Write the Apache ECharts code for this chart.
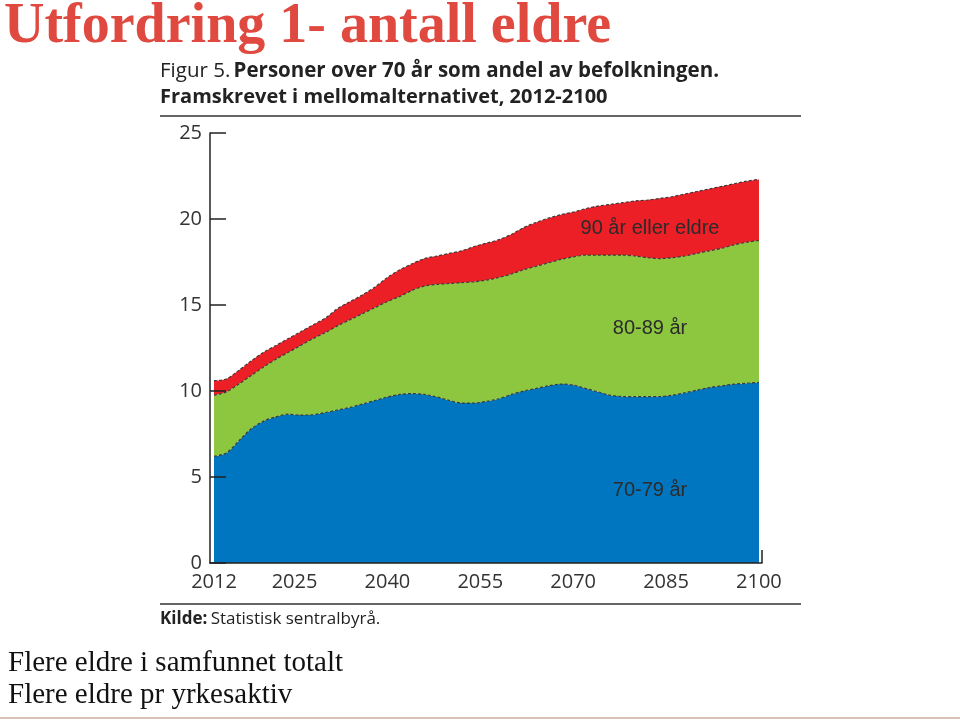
<!DOCTYPE html>
<html>
<head>
<meta charset="utf-8">
<script src="https://cdn.jsdelivr.net/npm/echarts@6/dist/echarts.min.js"></script>
<style>
html,body{margin:0;padding:0;background:#fff;}
#chart{width:960px;height:723px;}
</style>
</head>
<body>
<div id="chart"></div>
<script>
const years = [2012,2014,2016,2018,2020,2022,2024,2026,2028,2030,2032,2034,2036,2038,2040,2042,2044,2046,2048,2050,2052,2054,2056,2058,2060,2062,2064,2066,2068,2070,2072,2074,2076,2078,2080,2082,2084,2086,2088,2090,2092,2094,2096,2098,2100];
const age70_79 = [6.2,6.4,7.1,7.8,8.25,8.5,8.65,8.6,8.62,8.75,8.9,9.05,9.25,9.45,9.65,9.8,9.85,9.8,9.65,9.45,9.3,9.3,9.4,9.55,9.8,10.0,10.15,10.3,10.4,10.35,10.15,9.95,9.75,9.68,9.67,9.67,9.68,9.75,9.9,10.05,10.2,10.3,10.4,10.45,10.5];
const age80_89 = [3.55,3.55,3.3,3.1,3.15,3.35,3.6,4.05,4.43,4.65,4.9,5.1,5.25,5.4,5.55,5.7,6.0,6.3,6.55,6.8,7.0,7.05,7.05,7.05,7.0,7.05,7.1,7.15,7.25,7.45,7.75,7.95,8.15,8.22,8.18,8.08,8.02,8.0,7.95,7.95,7.95,8.0,8.1,8.2,8.25];
const age90plus = [0.85,0.75,0.8,0.85,0.85,0.8,0.8,0.8,0.8,0.85,1.0,1.05,1.1,1.2,1.4,1.55,1.55,1.6,1.65,1.75,1.85,2.05,2.15,2.2,2.3,2.45,2.55,2.6,2.6,2.6,2.7,2.85,2.95,3.05,3.2,3.35,3.5,3.55,3.6,3.6,3.6,3.6,3.55,3.55,3.55];
const xTickLabels = [2012,2025,2040,2055,2070,2085,2100];
const yTicks = [0,5,10,15,20,25];
const seriesNames = ['70-79 år','80-89 år','90 år eller eldre'];

const chart = echarts.init(document.getElementById('chart'), null, {renderer:'canvas'});

const areaColors = ['#0076C0','#8DC63F','#ED1F26'];
const valueSets = [age70_79, age80_89, age90plus];

const series = valueSets.map((vals, i) => ({
  name: seriesNames[i],
  type: 'line',
  xAxisIndex: 0,
  yAxisIndex: 0,
  stack: 'total',
  data: vals,
  symbol: 'none',
  smooth: 0.3,
  lineStyle: {color:'#3a3a3a', width:1.2, type:[3,2]},
  areaStyle: {color: areaColors[i], opacity:1},
  itemStyle: {color: areaColors[i]},
  emphasis: {disabled:true}
}));

const sans = '"Open Sans", "Noto Sans", sans-serif';
const yMin = yTicks[0], yMax = yTicks[yTicks.length-1];

const option = {
  animation: false,
  backgroundColor: '#ffffff',
  grid: [
    {left: 214, right: 201, top: 133, bottom: 160, containLabel: false},
    {left: 210, right: 198, top: 133, bottom: 160, containLabel: false}
  ],
  xAxis: [
    {type:'category', gridIndex:0, data: years, boundaryGap:false, show:false},
    {
      type: 'value', gridIndex: 1, z: 5,
      min: 2011.35, max: 2100.5,
      axisLine: {show:true, lineStyle:{color:'#222', width:1.5}},
      axisTick: {show:true, customValues:[2100.5], inside:true, length:13, lineStyle:{color:'#222', width:1.5}},
      splitLine: {show:false},
      axisLabel: {
        customValues: xTickLabels,
        formatter: v => String(v),
        color:'#333', fontFamily: sans, fontSize: 20, margin: 9
      }
    }
  ],
  yAxis: [
    {type:'value', gridIndex:0, min:yMin, max:yMax, show:false},
    {
      type: 'value', gridIndex: 1, z: 5,
      min: yMin, max: yMax, interval: 5,
      axisLine: {show:true, lineStyle:{color:'#222', width:1.5}},
      axisTick: {show:true, inside:true, length:16, lineStyle:{color:'#222', width:1.5}},
      splitLine: {show:false},
      axisLabel: {color:'#333', fontFamily: sans, fontSize: 20, margin: 8, padding:[7,0,0,0]}
    }
  ],
  series: series,
  graphic: [
    {type:'text', left: 4, top: 0, style:{text:'Utfordring 1- antall eldre', fill:'#E0493F', font:'bold 56px "Liberation Serif", serif'}},
    {type:'text', x: 160, y: 71, style:{
      text:'{r|Figur 5.} {b|Personer over 70 år som andel av befolkningen.}',
      verticalAlign:'middle', textAlign:'left',
      rich:{
        r:{font:'20.5px "Open Sans", sans-serif', fill:'#222'},
        b:{font:'bold 20.5px "Open Sans", sans-serif', fill:'#222'}
      }
    }},
    {type:'text', x: 160, y: 97, style:{text:'Framskrevet i mellomalternativet, 2012-2100', verticalAlign:'middle', fill:'#222', font:'bold 20px "Open Sans", sans-serif'}},
    {type:'line', shape:{x1:160, y1:116, x2:801, y2:116}, style:{stroke:'#333', lineWidth:1.5}},
    {type:'line', shape:{x1:160, y1:604, x2:801, y2:604}, style:{stroke:'#333', lineWidth:1.5}},
    {type:'text', x: 160, y: 619, style:{
      text:'{b|Kilde:} {r|Statistisk sentralbyrå.}', verticalAlign:'middle',
      rich:{
        b:{font:'bold 17px "Open Sans", sans-serif', fill:'#222'},
        r:{font:'17px "Open Sans", sans-serif', fill:'#222'}
      }
    }},
    {type:'text', x: 650, y: 228, z: 10, style:{text: seriesNames[2], textAlign:'center', verticalAlign:'middle', fill:'#2b2b2b', font:'20px "Liberation Sans", Arial, sans-serif'}},
    {type:'text', x: 650, y: 328, z: 10, style:{text: seriesNames[1], textAlign:'center', verticalAlign:'middle', fill:'#2b2b2b', font:'20px "Liberation Sans", Arial, sans-serif'}},
    {type:'text', x: 650, y: 490, z: 10, style:{text: seriesNames[0], textAlign:'center', verticalAlign:'middle', fill:'#2b2b2b', font:'20px "Liberation Sans", Arial, sans-serif'}},
    {type:'text', x: 8, y: 663, style:{text:'Flere eldre i samfunnet totalt', verticalAlign:'middle', fill:'#111', font:'29px "Liberation Serif", serif'}},
    {type:'text', x: 8, y: 695, style:{text:'Flere eldre pr yrkesaktiv', verticalAlign:'middle', fill:'#111', font:'29px "Liberation Serif", serif'}},
    {type:'line', shape:{x1:0, y1:718, x2:960, y2:718}, style:{stroke:'#D9C2B6', lineWidth:2}}
  ]
};

chart.setOption(option);
</script>
</body>
</html>
